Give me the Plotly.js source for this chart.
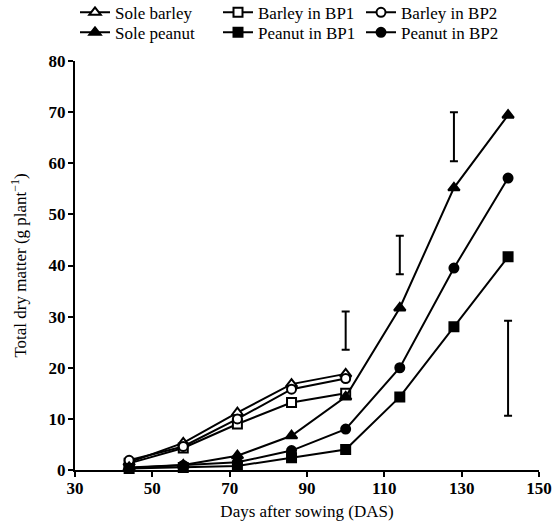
<!DOCTYPE html>
<html>
<head>
<meta charset="utf-8">
<script src="https://cdn.plot.ly/plotly-3.0.1.min.js"></script>
<style>html,body{margin:0;padding:0;background:#fff;}#chart{width:555px;height:527px;}</style>
</head>
<body>
<div id="chart"></div>
<script>
// Days after sowing
const das = [44, 58, 72, 86, 100, 114, 128, 142];
const dasBarley = [44, 58, 72, 86, 100];
// Total dry matter (g plant^-1)
const soleBarley = [1.5, 5.3, 11.2, 16.8, 18.8];
const barleyBP1 = [1.3, 4.3, 9.0, 13.2, 15.0];
const barleyBP2 = [1.9, 4.6, 10.0, 15.8, 17.9];
const solePeanut = [0.5, 1.0, 2.8, 6.7, 14.3, 31.7, 55.2, 69.4];
const peanutBP1 = [0.3, 0.5, 0.8, 2.4, 4.0, 14.3, 28.0, 41.7];
const peanutBP2 = [0.4, 0.9, 1.5, 3.8, 8.0, 20.0, 39.5, 57.1];
// LSD bars (low, high)
const lsdX = [100, 114, 128, 142];
const lsdLow = [23.5, 38.3, 60.4, 10.6];
const lsdHigh = [31.0, 45.8, 70.0, 29.2];
const xTicks = [30, 50, 70, 90, 110, 130, 150];
const yTicks = [0, 10, 20, 30, 40, 50, 60, 70, 80];

const serif = "Liberation Serif";
function tr(name, x, y, symbol, open, legend) {
  return {
    type: 'scatter', mode: 'lines+markers', name: name, x: x, y: y,
    legend: legend, cliponaxis: false,
    line: {color: '#000', width: 2},
    marker: {symbol: symbol, size: symbol === 'triangle-up' ? 10 : 9,
             color: open ? '#fff' : '#000', line: {color: '#000', width: 2}}
  };
}
const lsdMid = lsdX.map((_, i) => (lsdLow[i] + lsdHigh[i]) / 2);
const lsdHalf = lsdX.map((_, i) => (lsdHigh[i] - lsdLow[i]) / 2);

const data = [
  tr('Sole barley', dasBarley, soleBarley, 'triangle-up', true, 'legend'),
  tr('Barley in BP1', dasBarley, barleyBP1, 'square', true, 'legend'),
  tr('Barley in BP2', dasBarley, barleyBP2, 'circle', true, 'legend'),
  tr('Sole peanut', das, solePeanut, 'triangle-up', false, 'legend2'),
  tr('Peanut in BP1', das, peanutBP1, 'square', false, 'legend2'),
  tr('Peanut in BP2', das, peanutBP2, 'circle', false, 'legend2'),
  {type: 'scatter', mode: 'markers', x: lsdX, y: lsdMid, showlegend: false,
   marker: {size: 1, opacity: 0},
   error_y: {type: 'data', array: lsdHalf, visible: true, color: '#000', thickness: 2, width: 4}}
];

const legBase = {orientation: 'h', xanchor: 'left', yanchor: 'top', x: 0,
  bgcolor: 'rgba(0,0,0,0)', font: {family: serif, size: 17, color: '#000'},
  itemwidth: 30, entrywidth: 98, entrywidthmode: 'pixels', traceorder: 'normal'};

const layout = {
  width: 555, height: 527,
  margin: {l: 75, r: 16, t: 61, b: 57, autoexpand: false},
  paper_bgcolor: '#fff', plot_bgcolor: '#fff',
  font: {family: serif, color: '#000', size: 16},
  showlegend: true,
  legend: Object.assign({}, legBase, {y: 1.162}),
  legend2: Object.assign({}, legBase, {y: 1.113}),
  xaxis: {range: [30, 150], tickvals: xTicks, ticktext: xTicks.map(String),
    showgrid: false, zeroline: false, showline: true, linecolor: '#000', linewidth: 2,
    ticks: 'outside', ticklen: 5, tickwidth: 2, tickcolor: '#000', ticklabelstandoff: -3,
    tickfont: {family: serif, size: 17, weight: 'bold'},
    title: {text: 'Days after sowing (DAS)', font: {family: serif, size: 17}, standoff: 8}},
  yaxis: {range: [0, 80], tickvals: yTicks, ticktext: yTicks.map(String),
    showgrid: false, zeroline: false, showline: true, linecolor: '#000', linewidth: 2,
    ticks: 'outside', ticklen: 5, tickwidth: 2, tickcolor: '#000', ticklabelstandoff: -1,
    tickfont: {family: serif, size: 17, weight: 'bold'},
    title: {text: 'Total dry matter (g plant<sup>−1</sup>)', font: {family: serif, size: 17}, standoff: 18}}
};
Plotly.newPlot('chart', data, layout, {displayModeBar: false, staticPlot: true});
</script>
</body>
</html>
